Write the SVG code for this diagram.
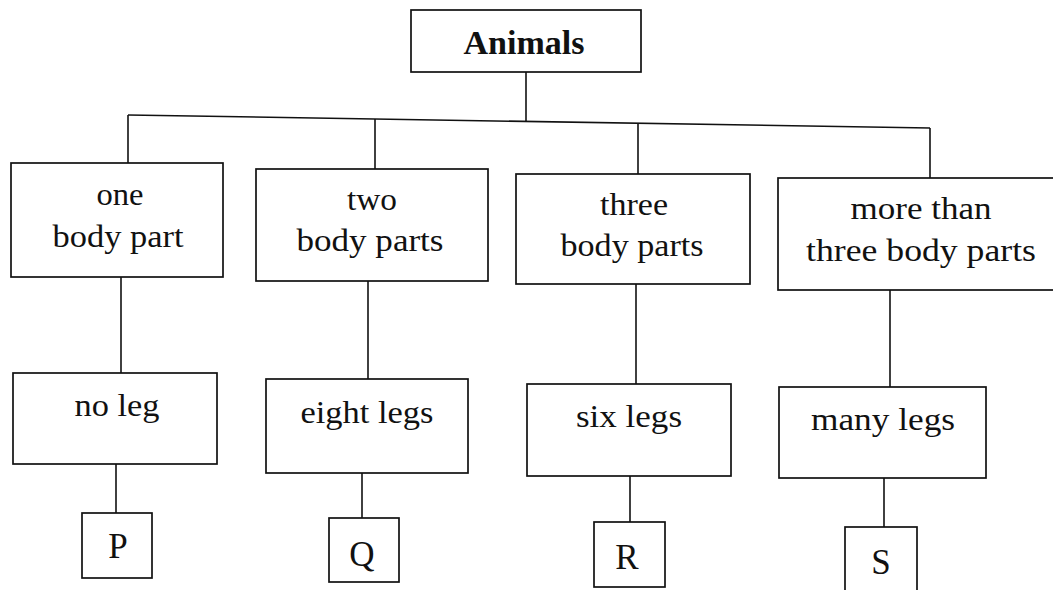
<svg xmlns="http://www.w3.org/2000/svg" width="1053" height="590" viewBox="0 0 1053 590">
<style>
.box{fill:#fff;stroke:#111;stroke-width:1.7}
.con{stroke:#111;stroke-width:1.6;fill:none}
.t{font-family:"Liberation Serif","Times New Roman",serif;font-size:32px;fill:#111;text-anchor:middle}
.b{font-family:"Liberation Serif","Times New Roman",serif;font-size:33px;font-weight:bold;fill:#111;text-anchor:middle}
.l{font-family:"Liberation Serif","Times New Roman",serif;font-size:35px;fill:#111;text-anchor:middle}
</style>
<rect width="1053" height="590" fill="#fff"/>
<g id="connectors" class="con">
<line x1="526" y1="72" x2="526" y2="121"/>
<line x1="128" y1="115" x2="930" y2="128"/>
<line x1="128" y1="115" x2="128" y2="163"/>
<line x1="375" y1="119" x2="375" y2="169"/>
<line x1="638" y1="124" x2="638" y2="174"/>
<line x1="930" y1="128" x2="930" y2="178"/>
<line x1="121" y1="277" x2="121" y2="373"/>
<line x1="368" y1="281" x2="368" y2="379"/>
<line x1="636" y1="284" x2="636" y2="384"/>
<line x1="890" y1="290" x2="890" y2="387"/>
<line x1="116" y1="464" x2="116" y2="513"/>
<line x1="362" y1="473" x2="362" y2="518"/>
<line x1="630" y1="476" x2="630" y2="522"/>
<line x1="884" y1="478" x2="884" y2="527"/>
</g>
<g id="animals"><rect class="box" x="411" y="10" width="230" height="62"/><text class="b" x="524" y="54" textLength="121" lengthAdjust="spacingAndGlyphs">Animals</text></g>
<g id="one-body-part"><rect class="box" x="11" y="163" width="212" height="114"/><text class="t" x="120" y="205" textLength="47" lengthAdjust="spacingAndGlyphs">one</text><text class="t" x="118" y="247" textLength="131" lengthAdjust="spacingAndGlyphs">body part</text></g>
<g id="two-body-parts"><rect class="box" x="256" y="169" width="232" height="112"/><text class="t" x="372" y="210" textLength="50" lengthAdjust="spacingAndGlyphs">two</text><text class="t" x="370" y="251" textLength="147" lengthAdjust="spacingAndGlyphs">body parts</text></g>
<g id="three-body-parts"><rect class="box" x="516" y="174" width="234" height="110"/><text class="t" x="634" y="215" textLength="68" lengthAdjust="spacingAndGlyphs">three</text><text class="t" x="632" y="256" textLength="143" lengthAdjust="spacingAndGlyphs">body parts</text></g>
<g id="more-than-three"><rect class="box" x="778" y="178" width="290" height="112"/><text class="t" x="921" y="219" textLength="141" lengthAdjust="spacingAndGlyphs">more than</text><text class="t" x="921" y="261" textLength="230" lengthAdjust="spacingAndGlyphs">three body parts</text></g>
<g id="no-leg"><rect class="box" x="13" y="373" width="204" height="91"/><text class="t" x="117" y="416" textLength="85" lengthAdjust="spacingAndGlyphs">no leg</text></g>
<g id="eight-legs"><rect class="box" x="266" y="379" width="202" height="94"/><text class="t" x="367" y="423" textLength="133" lengthAdjust="spacingAndGlyphs">eight legs</text></g>
<g id="six-legs"><rect class="box" x="527" y="384" width="204" height="92"/><text class="t" x="629" y="427" textLength="106" lengthAdjust="spacingAndGlyphs">six legs</text></g>
<g id="many-legs"><rect class="box" x="779" y="387" width="207" height="91"/><text class="t" x="883" y="430" textLength="144" lengthAdjust="spacingAndGlyphs">many legs</text></g>
<g id="P"><rect class="box" x="82" y="513" width="70" height="65"/><text class="l" x="118" y="558">P</text></g>
<g id="Q"><rect class="box" x="329" y="518" width="70" height="64"/><text class="l" x="362" y="566">Q</text></g>
<g id="R"><rect class="box" x="594" y="522" width="71" height="65"/><text class="l" x="627" y="569">R</text></g>
<g id="S"><rect class="box" x="845" y="527" width="72" height="70"/><text class="l" x="881" y="574">S</text></g>
</svg>
